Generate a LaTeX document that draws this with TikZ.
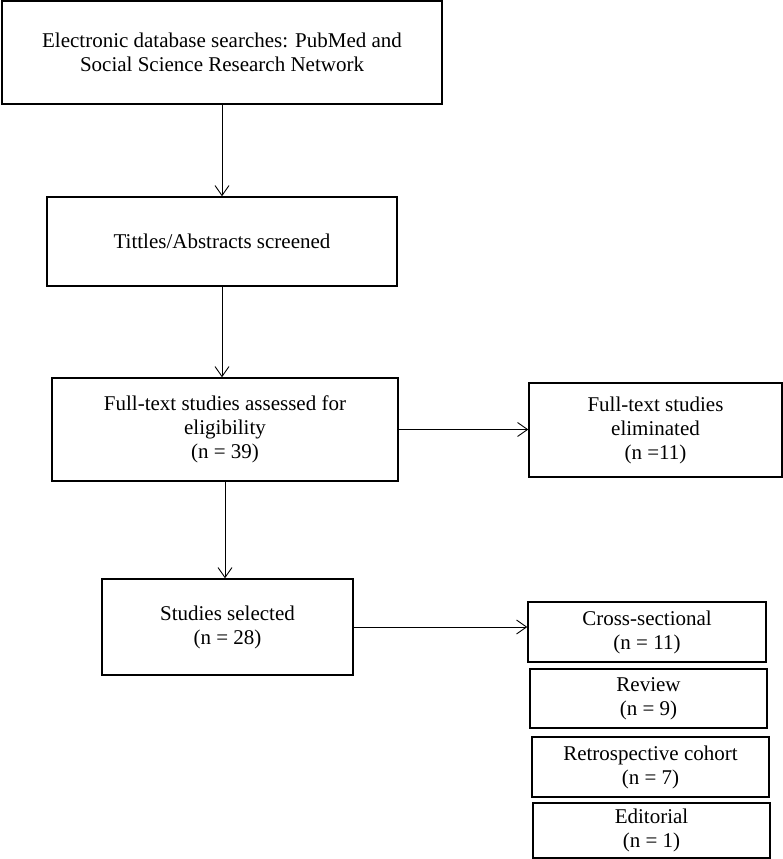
\documentclass[tikz,border=0pt]{standalone}
\usepackage{fontspec}
\setmainfont{Liberation Serif}
\usetikzlibrary{arrows.meta}
\begin{document}
\begin{tikzpicture}[x=1pt,y=-1pt,
  box/.style={draw=black,line width=1.4pt,align=center,inner sep=0pt,
    font=\fontsize{21}{24}\selectfont},
  arr/.style={draw=black,line width=0.9pt,-{Straight Barb[length=10pt,width=14pt,line width=0.9pt]}}]
\useasboundingbox (0,0) rectangle (783,859);
\newcommand{\bx}[6]{\node[box,minimum width=#4-#2,minimum height=#5-#3] (#1) at ({(#2+#4)/2},{(#3+#5)/2}) {#6};}
\bx{b1}{2}{1}{442}{104}{Electronic database searches: PubMed and\\Social Science Research Network}
\bx{b2}{47}{197}{397}{286}{Tittles/Abstracts screened}
\bx{b3}{52}{378}{398}{481}{Full-text studies assessed for\\eligibility\\(n = 39)}
\bx{b4}{529}{383}{782}{477}{Full-text studies\\eliminated\\(n =11)}
\bx{b5}{102}{579}{353}{675}{Studies selected\\(n = 28)}
\bx{c1}{528}{602}{766}{662}{Cross-sectional\\(n = 11)}
\bx{c2}{530}{669}{767}{728}{Review\\(n = 9)}
\bx{c3}{532}{737}{769}{797}{Retrospective cohort\\(n = 7)}
\bx{c4}{533}{803}{770}{858}{Editorial\\(n = 1)}
\draw[arr] (b1.south) -- (b1.south |- b2.north);
\draw[arr] (b2.south) -- (b2.south |- b3.north);
\draw[arr] (b3.south) -- (b3.south |- b5.north);
\draw[arr] (b3.east) -- (b3.east -| b4.west);
\draw[arr] (b5.east) -- (b5.east -| c1.west);
\end{tikzpicture}
\end{document}
